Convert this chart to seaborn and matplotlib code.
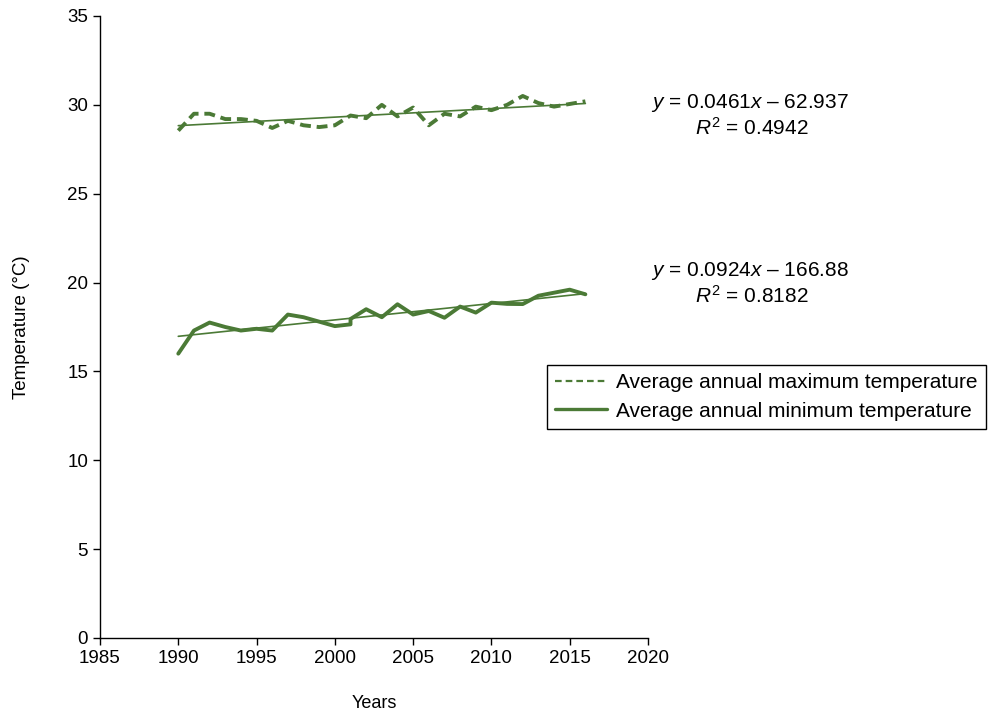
import matplotlib
matplotlib.use("Agg")
import matplotlib.pyplot as plt
import seaborn as sns
import numpy as np
import pandas as pd

# ---- data ----
years = [1990, 1991, 1992, 1993, 1994, 1995, 1996, 1997, 1998, 1999, 2000,
         2001, 2001, 2002, 2003, 2004, 2005, 2006, 2007, 2008, 2009, 2010,
         2011, 2012, 2013, 2014, 2015, 2016]
max_temp = [28.55, 29.5, 29.5, 29.2, 29.2, 29.1, 28.7, 29.1, 28.85, 28.75, 28.85,
            29.4, 29.4, 29.25, 30.0, 29.35, 29.85, 28.85, 29.5, 29.35, 29.9, 29.7,
            30.0, 30.5, 30.1, 29.9, 30.05, 30.2]
min_temp = [16.0, 17.3, 17.75, 17.5, 17.3, 17.4, 17.3, 18.2, 18.05, 17.8, 17.55,
            17.65, 17.95, 18.5, 18.05, 18.78, 18.2, 18.4, 18.02, 18.65, 18.31, 18.87,
            18.8, 18.79, 19.26, 19.43, 19.6, 19.34]
label_max = "Average annual maximum temperature"
label_min = "Average annual minimum temperature"
eq_max = ["$\\it{y}$ = 0.0461$\\it{x}$ \u2013 62.937", "$\\it{R}^2$ = 0.4942"]
eq_min = ["$\\it{y}$ = 0.0924$\\it{x}$ \u2013 166.88", "$\\it{R}^2$ = 0.8182"]
x_ticks = [1985, 1990, 1995, 2000, 2005, 2010, 2015, 2020]
y_ticks = [0, 5, 10, 15, 20, 25, 30, 35]

df = pd.DataFrame({"year": years, "max": max_temp, "min": min_temp})

sns.set_theme(style="ticks")
plt.rcParams["font.family"] = ["Liberation Sans", "DejaVu Sans"]
plt.rcParams["text.color"] = "black"
plt.rcParams["axes.labelcolor"] = "black"
plt.rcParams["mathtext.fontset"] = "custom"
plt.rcParams["mathtext.rm"] = "Liberation Sans"
plt.rcParams["mathtext.it"] = "Liberation Sans:italic"

green = "#4B7A36"

fig = plt.figure(figsize=(9.91, 7.13), dpi=100)
ax = fig.add_axes([100 / 991, 1 - 638 / 713, 548 / 991, 622 / 713])

sns.lineplot(data=df, x="year", y="max", ax=ax, estimator=None, sort=False,
             color=green, lw=2.8, linestyle=(0, (2.8, 1.5)), label=label_max)
sns.lineplot(data=df, x="year", y="min", ax=ax, estimator=None, sort=False,
             color=green, lw=2.8, linestyle="-", label=label_min)
sns.regplot(data=df, x="year", y="max", ax=ax, scatter=False, ci=None,
            color=green, line_kws={"lw": 1.2}, truncate=True)
sns.regplot(data=df, x="year", y="min", ax=ax, scatter=False, ci=None,
            color=green, line_kws={"lw": 1.2}, truncate=True)

ax.set_xlim(1985, 2020)
ax.set_ylim(0, 35)
ax.set_xticks(x_ticks)
ax.set_yticks(y_ticks)
ax.tick_params(axis="both", labelsize=13.5, length=5, width=1, color="black",
               labelcolor="black", direction="out")
for s in ["top", "right"]:
    ax.spines[s].set_visible(False)
for s in ["left", "bottom"]:
    ax.spines[s].set_color("black")
    ax.spines[s].set_linewidth(1)
ax.set_xlabel("Years", fontsize=13, labelpad=20, color="black")
ax.set_ylabel("Temperature (\u00b0C)", fontsize=13.5, labelpad=27, color="black")

fs_eq = 15
ax.text(750 / 991, 1 - 103 / 713, eq_max[0], transform=fig.transFigure,
        ha="center", va="center", fontsize=fs_eq)
ax.text(752 / 991, 1 - 128 / 713, eq_max[1], transform=fig.transFigure,
        ha="center", va="center", fontsize=fs_eq)
ax.text(750 / 991, 1 - 271 / 713, eq_min[0], transform=fig.transFigure,
        ha="center", va="center", fontsize=fs_eq)
ax.text(752 / 991, 1 - 296 / 713, eq_min[1], transform=fig.transFigure,
        ha="center", va="center", fontsize=fs_eq)

leg = ax.legend(loc="upper left", bbox_to_anchor=(547 / 991, 1 - 365 / 713),
                bbox_transform=fig.transFigure, fontsize=15, frameon=True,
                fancybox=False, framealpha=1, edgecolor="black",
                handlelength=2.5, handletextpad=0.4, borderpad=0.4,
                labelspacing=0.45, borderaxespad=0)
leg.get_frame().set_linewidth(1)
leg.get_lines()[0].set_linewidth(1.6)
leg.get_lines()[0].set_linestyle((0, (3, 1.8)))
leg.get_lines()[1].set_linewidth(2.4)

fig.savefig("out.png", dpi=100)
